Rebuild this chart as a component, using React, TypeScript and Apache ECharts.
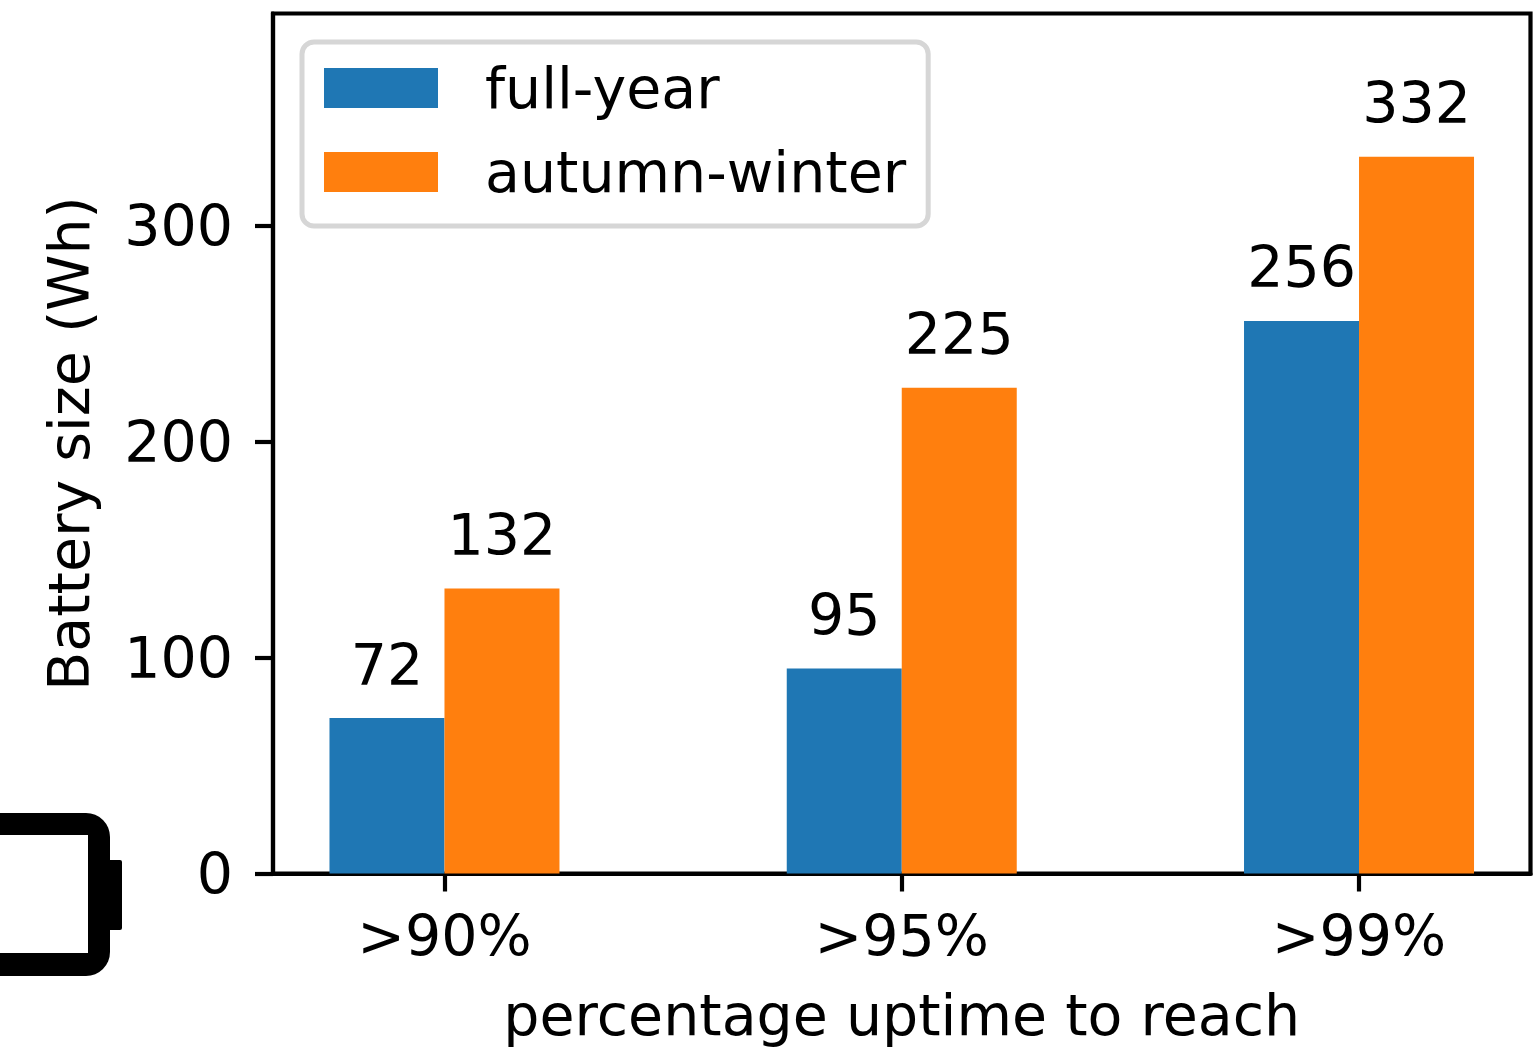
import React, { useEffect, useRef } from "react";
import * as echarts from "echarts";

const categories = [">90%", ">95%", ">99%"];
const categoryPositions = [0, 1, 2];
const fullYear = [72, 95, 256];
const autumnWinter = [132, 225, 332];
const yTicks = [0, 100, 200, 300];

const FONT = "DejaVu Sans";
const FS = 57;
const LW = 4.2;

export default function App() {
  const ref = useRef<HTMLDivElement>(null);
  useEffect(() => {
    const chart = echarts.init(ref.current!, null, { renderer: "svg" });
    const bar = (name: string, color: string, values: number[]) => ({
      name,
      type: "bar",
      barWidth: 115,
      barGap: "0%",
      itemStyle: { color },
      data: values.map((v, i) => [categoryPositions[i], v]),
      label: {
        show: true,
        position: "top",
        distance: 25,
        color: "#000",
        fontFamily: FONT,
        fontSize: FS,
      },
    });
    chart.setOption({
      animation: false,
      backgroundColor: "#fff",
      grid: {
        left: 273,
        top: 13.5,
        width: 1257.5,
        height: 860,
        outerBoundsMode: "none",
        show: true,
        borderColor: "#000",
        borderWidth: LW,
        backgroundColor: "transparent",
      },
      legend: {
        left: 302,
        top: 42,
        orient: "vertical",
        icon: "rect",
        itemWidth: 114,
        itemHeight: 40,
        itemGap: 27,
        padding: [17.5, 22, 25.5, 22],
        backgroundColor: "#fff",
        borderColor: "#d6d6d6",
        borderWidth: 5,
        borderRadius: 12,
        textStyle: {
          color: "#000",
          fontFamily: FONT,
          fontSize: FS,
          padding: [0, 0, 0, 42],
        },
        data: ["full-year", "autumn-winter"],
      },
      xAxis: {
        type: "value",
        min: -0.375,
        max: 2.375,
        splitLine: { show: false },
        axisLine: { show: true, onZero: false, lineStyle: { color: "#000", width: LW } },
        axisTick: {
          show: true,
          length: 18,
          lineStyle: { color: "#000", width: LW },
          customValues: categoryPositions,
        },
        axisLabel: {
          color: "#000",
          fontFamily: FONT,
          fontSize: FS,
          margin: 34,
          customValues: categoryPositions,
          formatter: (v: number) => categories[v] ?? "",
        },
        name: "percentage uptime to reach",
        nameLocation: "middle",
        nameGap: 113,
        nameTextStyle: { color: "#000", fontFamily: FONT, fontSize: FS },
      },
      yAxis: {
        type: "value",
        min: 0,
        max: 398.4,
        splitLine: { show: false },
        axisLine: { show: true, onZero: false, lineStyle: { color: "#000", width: LW } },
        axisTick: {
          show: true,
          length: 18,
          lineStyle: { color: "#000", width: LW },
          customValues: yTicks,
        },
        axisLabel: {
          color: "#000",
          fontFamily: FONT,
          fontSize: FS,
          margin: 40,
          padding: [4, 0, 0, 0],
          customValues: yTicks,
        },
        name: "Battery size (Wh)",
        nameLocation: "middle",
        nameGap: 176,
        nameTextStyle: { color: "#000", fontFamily: FONT, fontSize: FS },
      },
      graphic: [
        {
          type: "rect",
          z: 10,
          shape: { x: -60, y: 813, width: 170, height: 163, r: 24 },
          style: { fill: "#000" },
        },
        {
          type: "rect",
          z: 10,
          shape: { x: 108, y: 860, width: 14, height: 70, r: 2 },
          style: { fill: "#000" },
        },
        {
          type: "rect",
          z: 11,
          shape: { x: -60, y: 835, width: 148, height: 118 },
          style: { fill: "#fff" },
        },
      ],
      series: [
        bar("full-year", "#1f77b4", fullYear),
        bar("autumn-winter", "#ff7f0e", autumnWinter),
      ],
    });
    return () => chart.dispose();
  }, []);
  return (
    <div
      ref={ref}
      style={{ position: "fixed", left: 0, top: 0, width: 1538, height: 1051 }}
    />
  );
}
